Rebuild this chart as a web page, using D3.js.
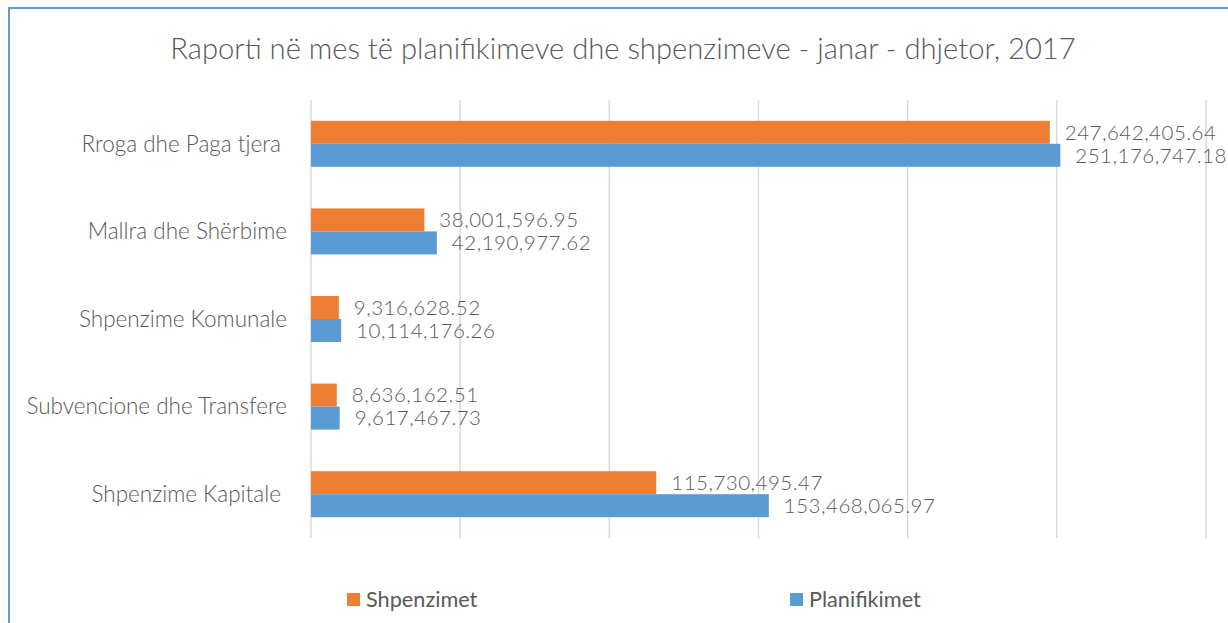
<!DOCTYPE html>
<html><head><meta charset="utf-8">
<script src="https://cdn.jsdelivr.net/npm/d3@7"></script>
<style>
html,body{margin:0;padding:0;background:#fff;}
svg{display:block;}
</style></head>
<body>
<svg id="chart" width="1228" height="623"></svg>
<script>
const title = "Raporti në mes të planifikimeve dhe shpenzimeve - janar - dhjetor, 2017";
const categories = ["Rroga dhe Paga tjera ", "Mallra dhe Shërbime", "Shpenzime Komunale", "Subvencione dhe Transfere", "Shpenzime Kapitale "];
const seriesNames = ["Shpenzimet", "Planifikimet"];
const shpenzimet = [247642405.64, 38001596.95, 9316628.52, 8636162.51, 115730495.47];
const planifikimet = [251176747.18, 42190977.62, 10114176.26, 9617467.73, 153468065.97];
const xTicks = [0, 50000000, 100000000, 150000000, 200000000, 250000000, 300000000];
const colors = ["#ED7D31", "#5B9BD5"];

const svg = d3.select("#chart");
const W = 1228, H = 623;
svg.append("rect").attr("x",0).attr("y",0).attr("width",W).attr("height",H).attr("fill","#fff");
// chart border
svg.append("rect").attr("x",9).attr("y",8).attr("width",W+20).attr("height",H+20)
  .attr("fill","none").attr("stroke","#5B9BD5").attr("stroke-width",2);

const font = "Lato, 'Open Sans', sans-serif";
const textColor = "#595959";

svg.append("text").attr("x",623).attr("y",59).attr("text-anchor","middle")
  .attr("font-family",font).attr("font-weight",300).attr("font-size",29.2).attr("fill",textColor)
  .text(title);

const x = d3.scaleLinear().domain([0, 300000000]).range([311, 1206]);
const y = d3.scaleBand().domain(categories).range([100, 538]).paddingInner(0.475).paddingOuter(0.2375);
const ys = d3.scaleBand().domain(seriesNames).range([0, y.bandwidth()]);

// gridlines
svg.append("g").selectAll("line").data(xTicks).join("line")
  .attr("x1", d=>x(d)).attr("x2", d=>x(d)).attr("y1",100).attr("y2",538)
  .attr("stroke","#d9d9d9").attr("stroke-width",1.5);

// category labels
svg.append("g").selectAll("text").data(categories).join("text")
  .attr("x",287).attr("y", d=>y(d)+y.bandwidth()/2).attr("dy","0.35em")
  .attr("text-anchor","end").attr("font-family",font).attr("font-weight",300)
  .attr("font-size",22.5).attr("fill",textColor).style("white-space","pre")
  .text(d=>d);

const fmt = d3.format(",.2f");
const series = [shpenzimet, planifikimet];
series.forEach((vals, si) => {
  const g = svg.append("g");
  const rows = categories.map((c,i)=>({c, v: vals[i]}));
  g.selectAll("rect").data(rows).join("rect")
    .attr("x", x(0)).attr("y", d=>y(d.c)+ys(seriesNames[si]))
    .attr("width", d=>x(d.v)-x(0)).attr("height", ys.bandwidth())
    .attr("fill", colors[si]);
  g.selectAll("text").data(rows).join("text")
    .attr("x", d=>x(d.v)+15).attr("y", d=>y(d.c)+ys(seriesNames[si])+ys.bandwidth()/2).attr("dy","0.36em")
    .attr("font-family",font).attr("font-weight",300).attr("font-size",20.5)
    .attr("letter-spacing","0.5px").attr("fill",textColor)
    .text(d=>fmt(d.v));
});

// legend
const legendX = [347, 790];
const lg = svg.append("g").selectAll("g").data(seriesNames).join("g")
  .attr("transform",(d,i)=>`translate(${legendX[i]},593)`);
lg.append("rect").attr("width",13).attr("height",13).attr("fill",(d,i)=>colors[i]);
lg.append("text").attr("x",19).attr("y",6.5).attr("dy","0.36em")
  .attr("font-family",font).attr("font-size",21.7).attr("fill",textColor).text(d=>d);
</script>
</body></html>
